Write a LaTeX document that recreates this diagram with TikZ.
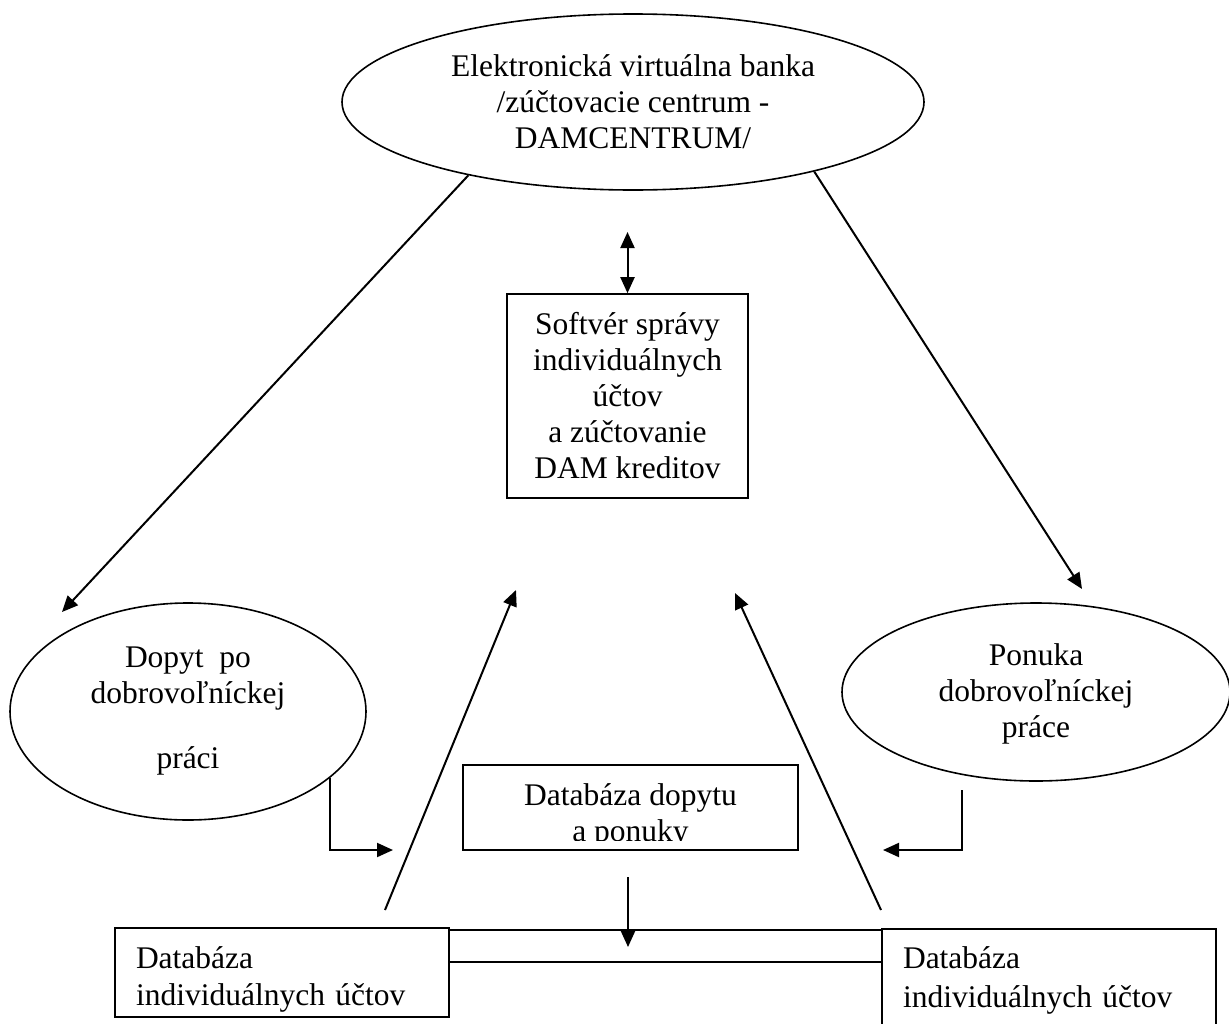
\documentclass[tikz,border=0pt]{standalone}
\usepackage{fontspec}
\setmainfont{Liberation Serif}
\usetikzlibrary{arrows.meta,shapes}
\tikzstyle{bubble}=[ellipse,draw,line width=1.6pt,inner sep=0pt,align=center,font=\fontsize{31.5}{36}\selectfont]
\tikzstyle{panel}=[rectangle,draw,line width=1.6pt,inner sep=0pt,align=center,font=\fontsize{31.5}{36}\selectfont]
\tikzstyle{dbbox}=[panel,align=left,inner xsep=21pt,text width=292pt]
\tikzstyle{edge}=[draw,line width=2pt,-{Triangle[length=16pt,width=14pt]}]
\tikzstyle{twoway}=[edge,{Triangle[length=16pt,width=14pt]}-{Triangle[length=16pt,width=14pt]}]
\tikzstyle{link}=[draw,line width=1.6pt]

\begin{document}
\begin{tikzpicture}[x=1pt,y=-1pt]
    \useasboundingbox (0,0) rectangle (1229,1023);
    \clip (0,0) rectangle (1229,1023);
    % First we draw the ellipses and boxes
    \node[bubble,minimum width=582pt,minimum height=176pt] (bank) at (633,102)
        {Elektronická virtuálna banka\\/zúčtovacie centrum -\\DAMCENTRUM/};
    \node[panel,minimum width=241pt,minimum height=204pt] (softver) at (627.5,396)
        {Softvér správy\\individuálnych\\účtov\\a zúčtovanie\\DAM kreditov};
    \node[bubble,minimum width=356pt,minimum height=217pt] (dopyt) at (188,711.5)
        {Dopyt\ \ po\\dobrovoľníckej\\[29pt]práci};
    \node[bubble,minimum width=388pt,minimum height=178pt] (ponuka) at (1036,692)
        {\rule{0pt}{26pt}Ponuka\\dobrovoľníckej\\práce};
    \node[panel,minimum width=335pt,minimum height=85pt] (databaza) at (630.5,807.5) {};
    \begin{scope}
        \clip (463,765) rectangle (798,840);
        \node[inner sep=0pt,align=center,font=\fontsize{31.5}{36}\selectfont] (databazatext) at (630.5,815.5)
            {Databáza dopytu\\a ponuky};
    \end{scope}
    \node[dbbox,minimum height=89pt] (ucetL) at (282,972.5) {\rule{0pt}{35pt}Databáza\\[1pt]individuálnych účtov};
    \node[dbbox,minimum height=102pt] (ucetP) at (1049,980) {Databáza\\[3pt]individuálnych účtov};
    % Free ends of the arrows
    \coordinate (dopytIn) at (62,612);
    \coordinate (ponukaIn) at (1082,589);
    \coordinate (bankLink) at (627.5,232);
    \coordinate (leftFoot) at (385,910);
    \coordinate (leftTip) at (516,590);
    \coordinate (rightFoot) at (881,910);
    \coordinate (rightTip) at (735,593);
    \coordinate (ddOut) at (628,877);
    \coordinate (ddIn) at (628,947);
    \coordinate (dopytTip) at (393,850);
    \coordinate (ponukaOut) at (962,790);
    \coordinate (ponukaTip) at (883,850);
    % Connect them with arrows
    \foreach \source/\dest in {bank.204/dopytIn, bank.339/ponukaIn, leftFoot/leftTip, rightFoot/rightTip, ddOut/ddIn}
        \path[edge] (\source) -- (\dest);
    \path[twoway] (bankLink) -- (softver.north);
    \path[edge] (dopyt.-25) |- (dopytTip);
    \path[edge] (ponukaOut) |- (ponukaTip);
    \path[link] ([yshift=-3pt]ucetL.north east) -- ([yshift=-3pt]ucetL.north east -| ucetP.west);
    \path[link] ([yshift=-35pt]ucetL.north east) -- ([yshift=-35pt]ucetL.north east -| ucetP.west);
\end{tikzpicture}
\end{document}
